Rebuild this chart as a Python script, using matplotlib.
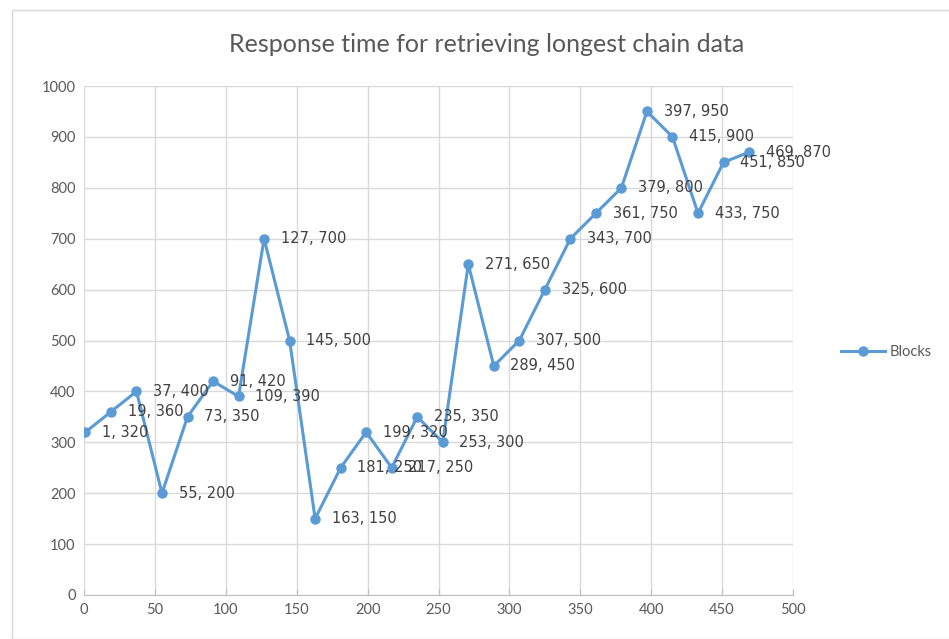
import matplotlib
matplotlib.use("Agg")
import matplotlib.pyplot as plt
from matplotlib.lines import Line2D
from matplotlib.patches import Rectangle

blocks = [1, 19, 37, 55, 73, 91, 109, 127, 145, 163, 181, 199, 217, 235, 253,
          271, 289, 307, 325, 343, 361, 379, 397, 415, 433, 451, 469]
times = [320, 360, 400, 200, 350, 420, 390, 700, 500, 150, 250, 320, 250, 350, 300,
         650, 450, 500, 600, 700, 750, 800, 950, 900, 750, 850, 870]
x_ticks = [0, 50, 100, 150, 200, 250, 300, 350, 400, 450, 500]
y_ticks = [0, 100, 200, 300, 400, 500, 600, 700, 800, 900, 1000]
title = "Response time for retrieving longest chain data"
series_name = "Blocks"

plt.rcParams['font.family'] = ['Lato', 'DejaVu Sans']
color = '#5B9BD5'
txt = '#595959'

fig = plt.figure(figsize=(9.49, 6.39), dpi=100)
fig.patches.append(Rectangle((12/949, 0), 1, 1 - 10/639, transform=fig.transFigure,
                             fill=False, edgecolor='#D9D9D9', linewidth=1))
ax = fig.add_axes([84/949, 1 - 595/639, (793 - 84)/949, (595 - 86)/639])
ax.plot(blocks, times, color=color, linewidth=2.2, marker='o', markersize=6.5, label=series_name)
for xv, yv in zip(blocks, times):
    ax.annotate(f"{xv}, {yv}", (xv, yv), xytext=(12, 0), textcoords='offset points',
                va='center', ha='left', fontsize=10.5, color='#404040', family=['DejaVu Sans'])
ax.set_xlim(0, 500)
ax.set_ylim(0, 1000)
ax.set_xticks(x_ticks)
ax.set_yticks(y_ticks)
ax.tick_params(axis='both', length=0, labelsize=10.5, colors=txt, pad=6)
ax.grid(True, color='#D9D9D9', linewidth=1)
ax.set_axisbelow(True)
for s in ['top', 'right', 'left']:
    ax.spines[s].set_visible(False)
ax.spines['bottom'].set_color('#BFBFBF')
ax.tick_params(axis='x', length=4, color='#BFBFBF', direction='in')
fig.text(487/949, 1 - 44/639, title, ha='center', va='center', fontsize=18, color=txt)
h = Line2D([], [], color=color, linewidth=2.2, marker='o', markersize=6.5)
fig.legend([h], [series_name], loc='center left', bbox_to_anchor=(828/949, 1 - 352/639),
           frameon=False, fontsize=10.5, labelcolor=txt, handlelength=3, handletextpad=0.3)
fig.savefig("out.png", dpi=100)
